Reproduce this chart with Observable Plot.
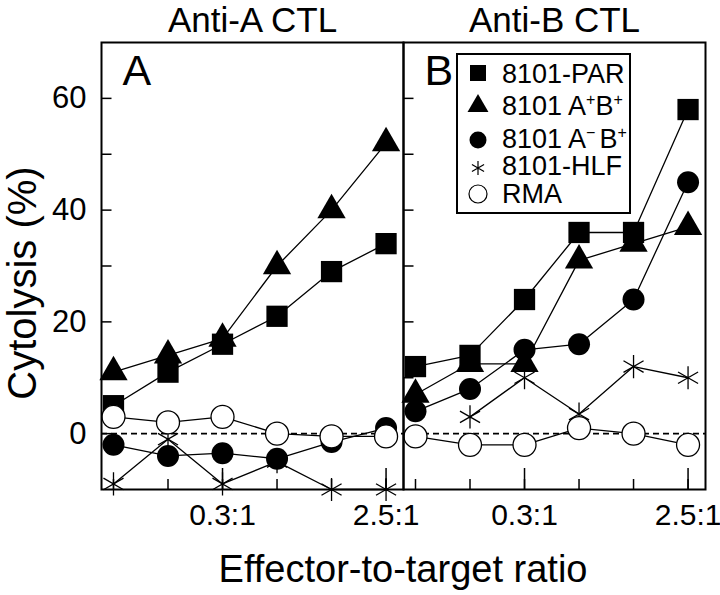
<!DOCTYPE html>
<html><head><meta charset="utf-8">
<script src="https://cdn.jsdelivr.net/npm/d3@7"></script>
<script src="https://cdn.jsdelivr.net/npm/@observablehq/plot@0.6"></script>
<style>body{margin:0;background:#fff} svg{display:block}</style>
</head><body><div id="chart"></div>
<script>
// ---- data ----
const panels = ["Anti-A CTL", "Anti-B CTL"];
const panelLetters = ["A", "B"];
const ratioIndex = [0, 1, 2, 3, 4, 5];
const labeledIndex = [2, 5];
const ratioTickLabels = ["0.3:1", "2.5:1"];
const yTickValues = [0, 10, 20, 30, 40, 50, 60];
const yTickLabels = [0, 20, 40, 60];
const seriesNames = ["8101-PAR", "8101 A+B+", "8101 A-B+", "8101-HLF", "RMA"];

const antiA_PAR  = [5, 11, 16, 21, 29, 34];
const antiA_ApBp = [11, 14, 17, 30, 40, 52];
const antiA_AmBp = [-2, -4, -3.5, -4.5, -1.5, 1];
const antiA_HLF  = [-9, -1, -9, -5, -10, -10];
const antiA_RMA  = [3, 2, 3, 0, -0.5, -0.5];

const antiB_PAR  = [12, 14, 24, 36, 36, 58];
const antiB_ApBp = [7, 12.5, 12.5, 31, 34, 37];
const antiB_AmBp = [4, 8, 15, 16, 24, 45];
const antiB_HLF  = [null, 3, 10, 3.5, 12, 10];
const antiB_RMA  = [-0.5, -2, -2, 1, 0, -2];

// ---- table ----
const rows = [];
function add(panel, series, values) {
  values.forEach((v, i) => { if (v != null) rows.push({panel, series, idx: ratioIndex[i], value: v}); });
}
add(panels[0], seriesNames[0], antiA_PAR);
add(panels[0], seriesNames[1], antiA_ApBp);
add(panels[0], seriesNames[2], antiA_AmBp);
add(panels[0], seriesNames[3], antiA_HLF);
add(panels[0], seriesNames[4], antiA_RMA);
add(panels[1], seriesNames[0], antiB_PAR);
add(panels[1], seriesNames[1], antiB_ApBp);
add(panels[1], seriesNames[2], antiB_AmBp);
add(panels[1], seriesNames[3], antiB_HLF);
add(panels[1], seriesNames[4], antiB_RMA);

const letterRows = panels.map((p, i) => ({panel: p, letter: panelLetters[i]}));

// ---- layout ----
const W = 720, H = 595, mT = 42, mB = 106, mL = 100, mR = 15;
const plotH = H - mT - mB;
const bandW = (W - mL - mR) / 2;
const FONT = "'Liberation Sans', Arial, Helvetica, sans-serif";

const styles = [
  {symbol: "square", r: 12, fill: "black", stroke: "none"},
  {symbol: "triangle", r: 10.5, fill: "black", stroke: "none"},
  {symbol: "circle", r: 11, fill: "black", stroke: "none"},
  {symbol: "asterisk", r: 11, fill: "none", stroke: "black"},
  {symbol: "circle", r: 11.5, fill: "white", stroke: "black"}
];

const dotMarks = seriesNames.map((s, i) => Plot.dot(rows.filter(d => d.series === s), {
  fx: "panel", x: "idx", y: "value",
  symbol: styles[i].symbol, r: styles[i].r,
  fill: styles[i].fill, stroke: styles[i].stroke, strokeWidth: 1.3
}));

const chart = Plot.plot({
  width: W, height: H,
  marginTop: mT, marginBottom: mB, marginLeft: mL, marginRight: mR,
  style: {fontFamily: FONT, background: "white", color: "black"},
  fx: {domain: panels, padding: 0, label: null},
  x: {domain: [-0.22, 5.32]},
  y: {domain: [-10, 70]},
  marks: [
    Plot.axisFx({anchor: "top", tickSize: 0, tickPadding: 11, fontSize: 35, label: null}),
    Plot.axisX({ticks: labeledIndex, tickFormat: d => ratioTickLabels[labeledIndex.indexOf(d)], tickSize: 0, tickPadding: 14, fontSize: 30, label: null}),
    Plot.axisY({ticks: yTickLabels, tickSize: 0, tickPadding: 15, fontSize: 31, label: null}),
    Plot.ruleY([0], {strokeDasharray: "6,4", strokeWidth: 1.6}),
    Plot.ruleX(ratioIndex, {x: d => d, insetTop: plotH - 10, strokeWidth: 1.5}),
    Plot.ruleX(labeledIndex, {x: d => d, insetTop: plotH - 21, strokeWidth: 1.5}),
    Plot.ruleY(yTickValues, {y: d => d, insetRight: bandW - 11, strokeWidth: 1.5}),
    Plot.line(rows, {fx: "panel", x: "idx", y: "value", z: "series", stroke: "black", strokeWidth: 1.3}),
    ...dotMarks,
    Plot.text(letterRows, {fx: "panel", text: "letter", frameAnchor: "top-left", dx: 21, dy: 12, lineAnchor: "top", fontSize: 43}),
    Plot.frame({strokeWidth: 2})
  ]
});

document.getElementById("chart").appendChild(chart);

// ---- extra text & legend ----
const svg = d3.select(chart);
svg.append("text").attr("transform", "translate(36,283) rotate(-90)")
  .attr("text-anchor", "middle").attr("font-size", 40).attr("font-family", FONT).attr("fill", "black")
  .text("Cytolysis (%)");
svg.append("text").attr("x", 403).attr("y", 582)
  .attr("text-anchor", "middle").attr("font-size", 38).attr("font-family", FONT).attr("fill", "black")
  .text("Effector-to-target ratio");

const lg = svg.append("g");
lg.append("rect").attr("x", 457).attr("y", 54).attr("width", 173).attr("height", 159)
  .attr("fill", "white").attr("stroke", "black").attr("stroke-width", 2);
const legendFont = "'Liberation Sans Narrow', 'Liberation Sans', Arial, sans-serif";
const legendSym = [
  {type: d3.symbolSquare, size: 256, fill: "black", stroke: "none"},
  {type: d3.symbolTriangle, size: 190, fill: "black", stroke: "none"},
  {type: d3.symbolCircle, size: 227, fill: "black", stroke: "none"},
  {type: d3.symbolAsterisk, size: 138, fill: "none", stroke: "black"},
  {type: d3.symbolCircle, size: 255, fill: "white", stroke: "black"}
];
const symY = [73, 106, 140, 168, 194];
const txtY = [83, 115, 148, 175, 203];
const legendParts = [
  [["8101-PAR", 0]],
  [["8101 A", 0], ["+", 1], ["B", 0], ["+", 1]],
  [["8101 A", 0], ["\u2212", 1], ["B", 0, 4], ["+", 1]],
  [["8101-HLF", 0]],
  [["RMA", 0]]
];
legendSym.forEach((s, i) => {
  lg.append("path").attr("d", d3.symbol(s.type, s.size)())
    .attr("transform", `translate(478,${symY[i]})`)
    .attr("fill", s.fill).attr("stroke", s.stroke).attr("stroke-width", 1.2);
  const t = lg.append("text").attr("x", 502).attr("y", txtY[i]).attr("text-anchor", "start")
    .attr("font-size", 27).attr("font-family", legendFont).attr("fill", "black");
  let sup = false;
  legendParts[i].forEach(([str, isSup, gap]) => {
    const ts = t.append("tspan").text(str);
    if (gap) ts.attr("dx", gap);
    if (isSup && !sup) { ts.attr("dy", -10).attr("font-size", 16); sup = true; }
    else if (isSup) { ts.attr("font-size", 16); }
    else if (!isSup && sup) { ts.attr("dy", 10); sup = false; }
  });
});
</script>
</body></html>
